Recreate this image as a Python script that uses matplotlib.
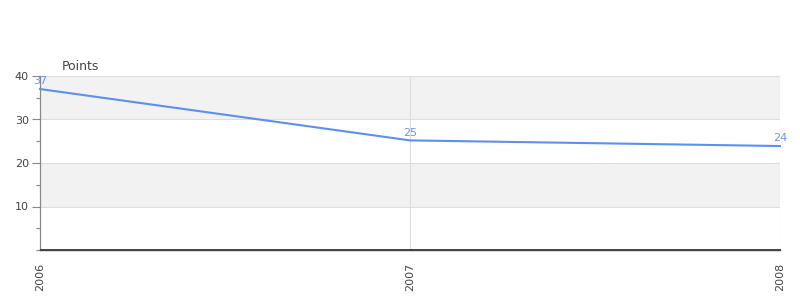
import matplotlib
matplotlib.use("Agg")
import matplotlib.pyplot as plt
import matplotlib.transforms as mtransforms
from matplotlib.ticker import MultipleLocator

years = [2006, 2007, 2008]
points = [37.0, 25.2, 23.9]
point_labels = ["37", "25", "24"]
baseline = [0, 0, 0]
y_ticks = [10, 20, 30, 40]

fig = plt.figure(figsize=(8, 3), dpi=100)
ax = fig.add_axes([0.05, 1 - 250 / 300, 0.925, 174 / 300])

# alternating bands
for lo, hi, c in [(0, 10, "white"), (10, 20, "#f2f2f2"), (20, 30, "white"), (30, 40, "#f2f2f2")]:
    ax.axhspan(lo, hi, color=c, zorder=0, lw=0)

ax.set_xlim(2006, 2008)
ax.set_ylim(0, 40)

for y in y_ticks:
    ax.axhline(y, color="#dddddd", lw=0.8, zorder=1)
for x in years[1:]:
    ax.axvline(x, color="#dddddd", lw=0.8, zorder=1)

shift_up = ax.transData + mtransforms.ScaledTranslation(0, 1.0 / 100, fig.dpi_scale_trans)
ax.plot(years, baseline, color="#dd0000", lw=0.7, zorder=6, clip_on=False, transform=shift_up)
ax.plot(years, points, color="#5b8ff0", lw=1.5, zorder=4, clip_on=False)

for x, y, t in zip(years, points, point_labels):
    ax.annotate(t, (x, y), xytext=(0, 2), textcoords="offset points",
                ha="center", va="bottom", fontsize=8, color="#6a94e8", zorder=5)

ax.set_yticks(y_ticks)
ax.yaxis.set_minor_locator(MultipleLocator(5))
ax.set_xticks(years)
ax.set_xticklabels([str(y) for y in years], rotation=90, fontsize=8, color="#444444")
ax.tick_params(axis="y", which="major", length=6, width=0.8, color="#888888",
               labelsize=8, labelcolor="#444444", pad=2)
ax.tick_params(axis="y", which="minor", length=3, width=0.8, color="#888888")
ax.tick_params(axis="x", length=0, pad=9)

for s in ["top", "right"]:
    ax.spines[s].set_visible(False)
ax.spines["left"].set_color("#888888")
ax.spines["left"].set_linewidth(0.9)
ax.spines["bottom"].set_color("#444444")
ax.spines["bottom"].set_linewidth(1.0)
ax.spines["bottom"].set_zorder(5)

fig.text(62 / 800, 1 - 66 / 300, "Points", fontsize=9, color="#444444", ha="left", va="center")

fig.savefig("out.png", dpi=100)
